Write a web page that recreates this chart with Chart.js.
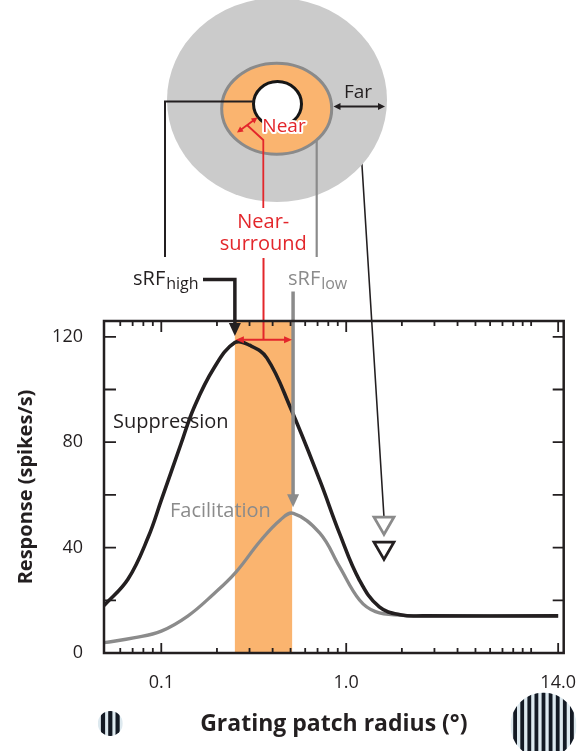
<!DOCTYPE html>
<html>
<head>
<meta charset="utf-8">
<script src="https://cdn.jsdelivr.net/npm/chart.js@4.4.1/dist/chart.umd.min.js"></script>
<style>
  html, body { margin: 0; padding: 0; background: #fff; }
  #fig { display: block; }
</style>
</head>
<body>
<canvas id="fig" width="578" height="751"></canvas>
<script>
// suppression curve (black)
const suppRadius = [0.049, 0.066, 0.085, 0.1, 0.128, 0.15, 0.192, 0.25, 0.3, 0.372, 0.5, 0.72, 0.92, 1.18, 1.51, 2.0, 2.6, 14.0];
const suppResp   = [18, 28, 44, 58, 79.5, 93, 108, 117.8, 116.8, 112, 93, 65.5, 45.4, 27.6, 17.5, 14.4, 14.1, 14.1];

// facilitation curve (gray)
const facRadius = [0.049, 0.072, 0.1, 0.139, 0.192, 0.252, 0.343, 0.44, 0.518, 0.72, 0.92, 1.18, 1.44, 2.0, 2.6, 14.0];
const facResp   = [3.9, 5.8, 8.3, 14, 22.4, 30.5, 42.5, 50.5, 53, 45.5, 32.8, 20.1, 15.7, 14.3, 14.1, 14.1];

// far-surround markers
const farRadius = [1.6];
const farFacResp = [49.4];
const farSuppResp = [39.9];

// near-surround band, sRF sizes
const nearBand = [0.25, 0.51];
const sRFhigh = 0.25;
const sRFlow = 0.516;

const xTickLabels = [0.1, 1, 14];
const yTickLabels = [0, 40, 80, 120];
const xMinorTicks = [0.06, 0.07, 0.08, 0.09, 0.2, 0.3, 0.4, 0.5, 0.6, 0.7, 0.8, 0.9, 2, 3, 4, 5, 6, 7, 8, 9, 10];
const yInnerTicks = [20, 40, 60, 80, 100, 120];

const INK = '#231f20';
const GRAY = '#8b8b8b';
const ORANGE = '#fab46f';
const RED = '#e3262b';
const FONT = "'Open Sans', sans-serif";

function head(ctx, tx, ty, angle, len, half) {
    ctx.save();
    ctx.translate(tx, ty);
    ctx.rotate(angle);
    ctx.beginPath();
    ctx.moveTo(0, 0);
    ctx.lineTo(-len, -half);
    ctx.lineTo(-len, half);
    ctx.closePath();
    ctx.fill();
    ctx.restore();
}

function doubleArrow(ctx, x0, y0, x1, y1, len, half) {
    const ang = Math.atan2(y1 - y0, x1 - x0);
    const c = Math.cos(ang), s = Math.sin(ang);
    ctx.beginPath();
    ctx.moveTo(x0 + c * len * 0.8, y0 + s * len * 0.8);
    ctx.lineTo(x1 - c * len * 0.8, y1 - s * len * 0.8);
    ctx.stroke();
    head(ctx, x1, y1, ang, len, half);
    head(ctx, x0, y0, ang + Math.PI, len, half);
}

function ellipse(ctx, cx, cy, rx, ry, fill, stroke, lw) {
    ctx.beginPath();
    ctx.ellipse(cx, cy, rx, ry, 0, 0, Math.PI * 2);
    if (fill) { ctx.fillStyle = fill; ctx.fill(); }
    if (stroke) { ctx.strokeStyle = stroke; ctx.lineWidth = lw; ctx.stroke(); }
}

function grating(ctx, cx, cy, r, n, period, barW) {
    ctx.save();
    ctx.beginPath();
    ctx.arc(cx, cy, r, 0, Math.PI * 2);
    ctx.clip();
    ctx.fillStyle = '#dde9ef';
    ctx.fillRect(cx - r, cy - r, 2 * r, 2 * r);
    ctx.fillStyle = '#141a24';
    for (let i = 0; i < n; i++) {
        const bx = cx + (i - (n - 1) / 2) * period;
        ctx.fillRect(bx - barW / 2, cy - r, barW, 2 * r);
    }
    ctx.restore();
}

function sub(ctx, main, low, x, y, color) {
    ctx.fillStyle = color;
    ctx.textAlign = 'left';
    ctx.textBaseline = 'alphabetic';
    ctx.font = `20px ${FONT}`;
    ctx.fillText(main, x, y);
    const w = ctx.measureText(main).width;
    ctx.font = `16px ${FONT}`;
    ctx.fillText(low, x + w + 1, y + 4);
}

const overlay = {
    id: 'overlay',
    beforeDatasetsDraw(chart) {
        const { ctx, chartArea: a, scales: { x, y } } = chart;
        ctx.save();
        const b0 = x.getPixelForValue(nearBand[0]);
        const b1 = x.getPixelForValue(nearBand[1]);
        ctx.fillStyle = ORANGE;
        ctx.fillRect(b0, a.top, b1 - b0, a.bottom - a.top);

        // line from "Far" down to the far markers
        ctx.strokeStyle = INK;
        ctx.lineWidth = 1.6;
        ctx.beginPath();
        ctx.moveTo(358.3, 106.5);
        ctx.lineTo(x.getPixelForValue(farRadius[0]), y.getPixelForValue(farFacResp[0]) - 6);
        ctx.stroke();
        ctx.restore();
    },
    afterDatasetsDraw(chart) {
        const { ctx, chartArea: a, scales: { x, y } } = chart;
        ctx.save();

        // curve labels
        ctx.textAlign = 'left';
        ctx.textBaseline = 'alphabetic';
        ctx.font = `20px ${FONT}`;
        ctx.fillStyle = INK;
        ctx.fillText('Suppression', a.left + 9, 427.5);
        ctx.fillStyle = GRAY;
        ctx.fillText('Facilitation', a.left + 66, 516.5);

        const xh = x.getPixelForValue(sRFhigh);
        const xl = x.getPixelForValue(sRFlow);
        const xm = x.getPixelForValue(Math.sqrt(nearBand[0] * nearBand[1]));

        // sRF high arrow
        const tipH = y.getPixelForValue(120.3);
        ctx.strokeStyle = INK;
        ctx.fillStyle = INK;
        ctx.lineWidth = 3.5;
        ctx.lineJoin = 'miter';
        ctx.beginPath();
        ctx.moveTo(203, 279.5);
        ctx.lineTo(xh, 279.5);
        ctx.lineTo(xh, tipH - 10);
        ctx.stroke();
        head(ctx, xh, tipH, Math.PI / 2, 13, 6);

        // sRF low arrow
        const tipL = y.getPixelForValue(55.3);
        ctx.strokeStyle = GRAY;
        ctx.fillStyle = GRAY;
        ctx.beginPath();
        ctx.moveTo(xl, 291.5);
        ctx.lineTo(xl, tipL - 10);
        ctx.stroke();
        head(ctx, xl, tipL, Math.PI / 2, 13, 6);

        // near-surround red marker
        const yr = y.getPixelForValue(118.9);
        ctx.strokeStyle = RED;
        ctx.fillStyle = RED;
        ctx.lineWidth = 2;
        ctx.beginPath();
        ctx.moveTo(xm, 258);
        ctx.lineTo(xm, yr);
        ctx.stroke();
        doubleArrow(ctx, xh + 1, yr, xl - 1, yr, 8, 3.5);

        // inner tick marks
        ctx.strokeStyle = INK;
        ctx.lineWidth = 1.8;
        ctx.beginPath();
        yInnerTicks.forEach(v => {
            const py = y.getPixelForValue(v);
            ctx.moveTo(a.left, py); ctx.lineTo(a.left + 12, py);
            ctx.moveTo(a.right, py); ctx.lineTo(a.right - 11, py);
        });
        xMinorTicks.forEach(v => {
            const px = x.getPixelForValue(v);
            ctx.moveTo(px, a.bottom); ctx.lineTo(px, a.bottom - 5);
            ctx.moveTo(px, a.top); ctx.lineTo(px, a.top + 5);
        });
        xTickLabels.forEach(v => {
            const px = x.getPixelForValue(v);
            ctx.moveTo(px, a.bottom); ctx.lineTo(px, a.bottom - 10);
            ctx.moveTo(px, a.top); ctx.lineTo(px, a.top + 11);
        });
        ctx.stroke();

        // frame
        ctx.lineWidth = 2.5;
        ctx.strokeRect(a.left, a.top, a.right - a.left, a.bottom - a.top);
        ctx.restore();
    },
    afterDraw(chart) {
        const { ctx } = chart;
        ctx.save();

        // receptive field diagram
        ellipse(ctx, 277, 100, 110, 102, '#cbcbcb');
        ellipse(ctx, 276.7, 108.7, 55, 45.5, ORANGE, '#8a8a8a', 3);
        ellipse(ctx, 277.5, 104, 24, 22.5, '#ffffff', '#161616', 3);

        ctx.lineCap = 'butt';
        ctx.strokeStyle = INK;
        ctx.lineWidth = 2;
        ctx.beginPath();
        ctx.moveTo(254, 101.5);
        ctx.lineTo(165, 101.5);
        ctx.lineTo(165, 257);
        ctx.stroke();

        ctx.strokeStyle = GRAY;
        ctx.lineWidth = 2.2;
        ctx.beginPath();
        ctx.moveTo(316.7, 140);
        ctx.lineTo(316.7, 257);
        ctx.stroke();

        // Near arrow and leader
        ctx.strokeStyle = RED;
        ctx.fillStyle = RED;
        ctx.lineWidth = 1.8;
        doubleArrow(ctx, 237, 132.5, 257.5, 117.5, 6, 3);
        ctx.beginPath();
        ctx.moveTo(247, 125);
        ctx.lineTo(263.3, 140);
        ctx.lineTo(263.3, 208);
        ctx.stroke();

        ctx.font = `19px ${FONT}`;
        ctx.textAlign = 'center';
        ctx.textBaseline = 'middle';
        ctx.lineJoin = 'round';
        ctx.strokeStyle = '#ffffff';
        ctx.lineWidth = 4;
        ctx.strokeText('Near', 284, 127);
        ctx.fillStyle = RED;
        ctx.fillText('Near', 284, 127);

        ctx.font = `20px ${FONT}`;
        ctx.fillText('Near-', 263.3, 222);
        ctx.fillText('surround', 263.3, 244);

        // Far
        ctx.fillStyle = INK;
        ctx.font = `19px ${FONT}`;
        ctx.fillText('Far', 358, 93);
        ctx.strokeStyle = INK;
        ctx.lineWidth = 1.8;
        doubleArrow(ctx, 333.5, 106.5, 385, 106.5, 7, 3.5);

        sub(ctx, 'sRF', 'high', 133, 285, INK);
        sub(ctx, 'sRF', 'low', 288, 285, GRAY);

        // grating icons
        grating(ctx, 110.3, 723.5, 12.5, 3, 7.3, 4.2);
        grating(ctx, 543.5, 725.5, 33, 9, 7.1, 3.8);
        ctx.restore();
    }
};

const ctx = document.getElementById('fig').getContext('2d');
new Chart(ctx, {
    type: 'line',
    data: {
        datasets: [
            {
                label: 'Suppression',
                data: suppRadius.map((r, i) => ({ x: r, y: suppResp[i] })),
                borderColor: INK,
                borderWidth: 3.6,
                pointRadius: 0,
                tension: 0.4,
                order: 1
            },
            {
                label: 'Facilitation',
                data: facRadius.map((r, i) => ({ x: r, y: facResp[i] })),
                borderColor: GRAY,
                borderWidth: 3.3,
                pointRadius: 0,
                tension: 0.4,
                order: 2
            },
            {
                label: 'Far (facilitation)',
                data: farRadius.map((r, i) => ({ x: r, y: farFacResp[i] })),
                showLine: false,
                pointStyle: 'triangle',
                rotation: 180,
                pointRadius: 11.5,
                pointBorderWidth: 2.8,
                pointBorderColor: GRAY,
                pointBackgroundColor: '#ffffff',
                order: 0
            },
            {
                label: 'Far (suppression)',
                data: farRadius.map((r, i) => ({ x: r, y: farSuppResp[i] })),
                showLine: false,
                pointStyle: 'triangle',
                rotation: 180,
                pointRadius: 11.5,
                pointBorderWidth: 2.8,
                pointBorderColor: INK,
                pointBackgroundColor: '#ffffff',
                order: 0
            }
        ]
    },
    options: {
        responsive: false,
        animation: false,
        layout: { padding: { top: 321, right: 12, bottom: 0, left: 0 } },
        plugins: { legend: { display: false }, tooltip: { enabled: false } },
        scales: {
            x: {
                type: 'logarithmic',
                min: 0.049,
                max: 15,
                grid: { display: false },
                border: { display: false },
                afterBuildTicks: s => { s.ticks = xTickLabels.map(v => ({ value: v })); },
                afterFit: s => { s.height = 98; s.paddingLeft = 0; s.paddingRight = 0; },
                ticks: {
                    autoSkip: false,
                    maxRotation: 0,
                    padding: 11,
                    color: INK,
                    font: { family: FONT, size: 18 },
                    callback: v => Number(v).toFixed(1)
                },
                title: {
                    display: true,
                    text: 'Grating patch radius (°)',
                    color: INK,
                    font: { family: FONT, size: 23, weight: 'bold' },
                    padding: { top: 0, bottom: 13 }
                }
            },
            y: {
                min: 0,
                max: 126,
                grid: { display: false },
                border: { display: false },
                afterBuildTicks: s => { s.ticks = yTickLabels.map(v => ({ value: v })); },
                afterFit: s => { s.width = 104; s.paddingTop = 0; s.paddingBottom = 0; },
                ticks: {
                    padding: 13,
                    color: INK,
                    font: { family: FONT, size: 18 }
                },
                title: {
                    display: true,
                    text: 'Response (spikes/s)',
                    color: INK,
                    font: { family: FONT, size: 20, weight: 'bold' },
                    padding: { top: 14, bottom: 0 }
                }
            }
        }
    },
    plugins: [overlay]
});
</script>
</body>
</html>
